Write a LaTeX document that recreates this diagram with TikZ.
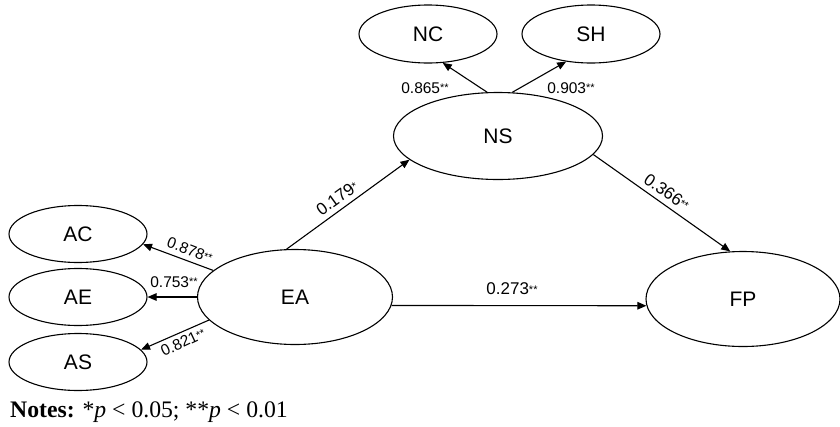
\documentclass[tikz,border=0pt]{standalone}
\usepackage{fontspec}
\setmainfont{Liberation Sans}
\newfontfamily\notesfont{Liberation Serif}
\usetikzlibrary{shapes.geometric,arrows.meta}
\newcommand{\stars}[1]{\raisebox{1.5pt}{\fontsize{11pt}{11pt}\selectfont #1}}
\tikzset{
  construct/.style={draw, ellipse, line width=1.1pt, inner sep=0pt, font=\fontsize{21pt}{21pt}\selectfont},
  small/.style={construct, minimum width=138pt, minimum height=57pt},
  path/.style={line width=1.1pt, -{Triangle[length=9pt,width=7.5pt]}},
  coef/.style={font=\fontsize{15.5pt}{15.5pt}\selectfont, inner sep=0.5pt},
  bigcoef/.style={font=\fontsize{17pt}{17pt}\selectfont, inner sep=0.5pt}
}
\begin{document}
\begin{tikzpicture}[x=1pt,y=-1pt]
\useasboundingbox (0,0) rectangle (840,426);
% nodes
\node[small] (AC) at (78,234) {AC};
\node[small] (AE) at (78,297) {AE};
\node[small] (AS) at (78,362) {AS};
\node[construct, minimum width=195pt, minimum height=95pt] (EA) at (295,297) {EA};
\node[construct, minimum width=209pt, minimum height=87pt] (NS) at (498,136) {NS};
\node[small, minimum height=58pt] (NC) at (428,34) {NC};
\node[small, minimum height=58pt] (SH) at (591,34) {SH};
\node[construct, minimum width=194pt, minimum height=95pt] (FP) at (743,299) {FP};
% paths
\draw[path] (EA.100) -- (NS.195);
\draw[path] (NS.349) -- (FP.105);
\draw[path] (EA.355) -- (FP.184);
\draw[path] (EA.162) -- (AC.351);
\draw[path] (EA.west) -- (AE.east);
\draw[path] (EA.195) -- (AS.11);
\draw[path] (NS.104) -- (NC.297);
\draw[path] (NS.72) -- (SH.228);
% coefficients
\node[coef, rotate=-21] (l1) at (190,250) {0.878\stars{**}};
\node[coef] (l2) at (174,282) {0.753\stars{**}};
\node[coef, rotate=25] (l3) at (183,342) {0.821\stars{**}};
\node[bigcoef, rotate=36] (l4) at (337,198) {0.179\stars{*}};
\node[bigcoef, rotate=-35] (l5) at (667,192) {0.366\stars{**}};
\node[bigcoef] (l6) at (512,289) {0.273\stars{**}};
\node[coef] (l7) at (425,88) {0.865\stars{**}};
\node[coef] (l8) at (571,88) {0.903\stars{**}};
% notes
\node[anchor=base west, inner sep=0pt, font=\notesfont\fontsize{23.7pt}{23.7pt}\selectfont] (notes) at (10,417)
  {\textbf{Notes:} *\textit{p} < 0.05; **\textit{p} < 0.01};
\end{tikzpicture}
\end{document}
